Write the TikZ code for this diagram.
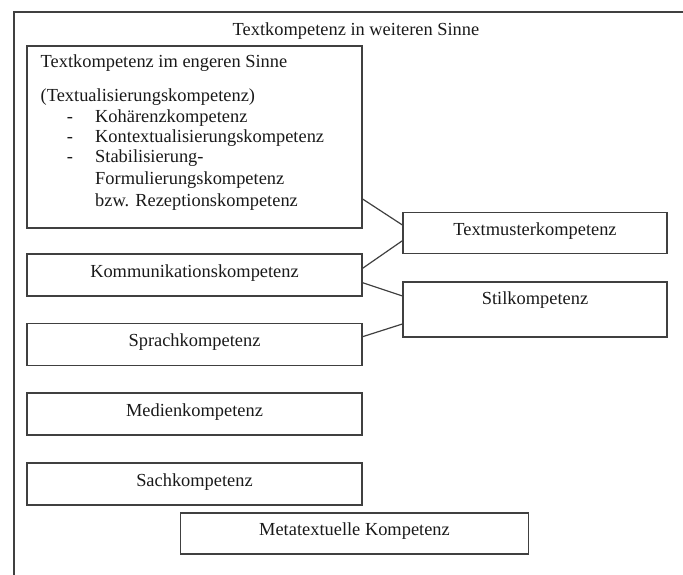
\documentclass[tikz,border=0pt]{standalone}
\usepackage{fontspec}
\setmainfont{Liberation Serif}
\begin{document}
\begin{tikzpicture}[x=1pt,y=-1pt,
  every node/.style={font=\fontsize{18.4}{21}\selectfont, text=black!90},
  frame/.style={draw=black!75, line width=1.2pt},
  kbox/.style={draw=black!75, line width=1.2pt, inner sep=0pt,
    text height=12.5pt, text depth=8pt},
  wide/.style={kbox, minimum width=335pt, minimum height=42pt},
  side/.style={kbox, minimum width=264pt},
  link/.style={draw=black!75, line width=1.2pt},
  line/.style={anchor=base west, inner sep=0pt}]
\useasboundingbox (0,0) rectangle (683,575);

% outer frame, open at the right and bottom
\draw[frame] (14,576) -- (14,12) -- (684,12);
\node[anchor=base, inner sep=0pt] (title) at (356,36) {Textkompetenz in weiteren Sinne};

% narrow text competence with its list
\node[kbox, minimum width=335pt, minimum height=182pt] (eng) at (194.5,137) {};
\node[line] (eng1) at (40.5,67.8) {Textkompetenz im engeren Sinne};
\node[line] (eng2) at (40.5,101.2) {(Textualisierungskompetenz)};
\node[anchor=base, inner sep=0pt] (d1) at (70,122.8) {-};
\node[anchor=base, inner sep=0pt] (d2) at (70,142.8) {-};
\node[anchor=base, inner sep=0pt] (d3) at (70,162.8) {-};
\node[line] (it1) at (95,122.8) {Kohärenzkompetenz};
\node[line] (it2) at (95,142.8) {Kontextualisierungskompetenz};
\node[line] (it3) at (95,162.8) {Stabilisierung-};
\node[line] (it4) at (95,184.5) {Formulierungskompetenz};
\node[line] (it5) at (95,206.2) {bzw. Rezeptionskompetenz};

% left column
\node[wide] (kom) at (194.5,275) {Kommunikationskompetenz};
\node[wide] (spr) at (194.5,344.5) {Sprachkompetenz};
\node[wide] (med) at (194.5,414) {Medienkompetenz};
\node[wide] (sach) at (194.5,484) {Sachkompetenz};
\node[kbox, minimum width=348pt, minimum height=41pt] (meta) at (354.5,533.5) {Metatextuelle Kompetenz};

% right column
\node[side, minimum height=41pt] (tm) at (535,233) {Textmusterkompetenz};
\node[side, minimum height=55pt, text depth=23pt] (stil) at (535,309.5) {Stilkompetenz};

% connectors
\draw[link] (eng.east |- 0,199) -- (tm.west |- 0,225);
\draw[link] (kom.east |- 0,268.3) -- (tm.west |- 0,240.7);
\draw[link] (kom.east |- 0,282.7) -- (stil.west |- 0,296);
\draw[link] (spr.east |- 0,336.7) -- (stil.west |- 0,324);
\end{tikzpicture}
\end{document}
